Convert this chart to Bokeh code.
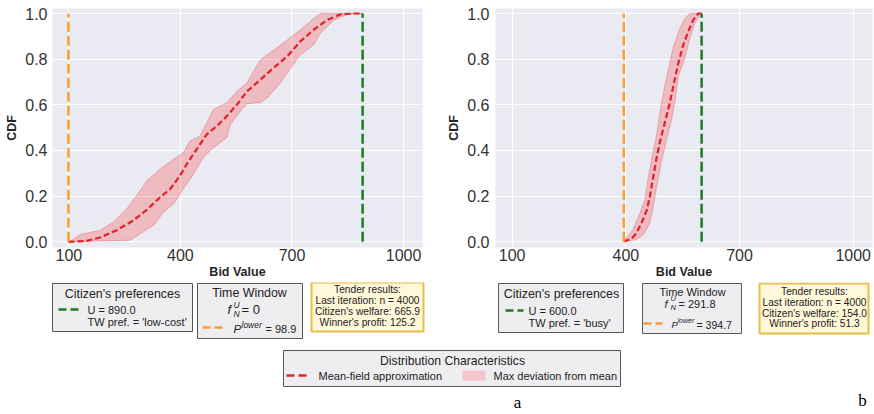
from bokeh.plotting import figure
from bokeh.layouts import column, row
from bokeh.models import Range1d, FixedTicker, PrintfTickFormatter
from bokeh.core.properties import value
from bokeh.embed import file_html
from bokeh.resources import INLINE

# ---------------- data ----------------
bid_ticks = [100, 400, 700, 1000]
cdf_ticks = [0.0, 0.2, 0.4, 0.6, 0.8, 1.0]

# panel a
a_mean_x = [99, 148, 184, 229, 274, 310, 346, 373, 399, 417, 444, 471, 498, 525,
            552, 579, 615, 650, 687, 722, 758, 794, 830, 866, 889]
a_mean_y = [0.0, 0.004, 0.019, 0.051, 0.094, 0.141, 0.196, 0.232, 0.29, 0.34, 0.406,
            0.471, 0.507, 0.551, 0.601, 0.659, 0.71, 0.761, 0.812, 0.877, 0.928,
            0.971, 0.996, 1.0, 1.0]
a_upper_x = [103, 130, 184, 220, 256, 292, 310, 346, 382, 408, 426, 453, 489, 525,
             552, 579, 615, 651, 687, 722, 758, 776, 889]
a_upper_y = [0.0, 0.032, 0.05, 0.087, 0.145, 0.225, 0.268, 0.319, 0.362, 0.391,
             0.442, 0.464, 0.58, 0.609, 0.659, 0.696, 0.797, 0.84, 0.884, 0.928,
             0.978, 1.0, 1.0]
a_lower_x = [99, 265, 292, 328, 355, 382, 408, 435, 462, 489, 525, 534, 561, 579,
             615, 633, 669, 687, 722, 758, 776, 812, 848, 889]
a_lower_y = [0.0, 0.007, 0.036, 0.072, 0.13, 0.167, 0.232, 0.297, 0.37, 0.413, 0.457,
             0.514, 0.572, 0.605, 0.61, 0.63, 0.696, 0.739, 0.819, 0.862, 0.913,
             0.971, 0.996, 1.0]
a_U = 890.0
a_tw_pref = "low-cost"
a_fNU = 0
a_p_lower = 98.9
a_n = 4000
a_welfare = 665.9
a_profit = 125.2

# panel b
b_mean_x = [395, 397, 415, 428, 441, 455, 463, 472, 481, 490, 503, 516, 525, 538,
            552, 565, 578, 591, 600]
b_mean_y = [0.0, 0.003, 0.013, 0.038, 0.081, 0.138, 0.195, 0.281, 0.366, 0.437,
            0.523, 0.608, 0.68, 0.779, 0.865, 0.922, 0.972, 1.0, 1.0]
b_upper_x = [395, 397, 419, 437, 450, 459, 472, 481, 490, 499, 512, 525, 543, 556,
             569, 600]
b_upper_y = [0.0, 0.01, 0.053, 0.124, 0.181, 0.281, 0.395, 0.466, 0.566, 0.651,
             0.751, 0.85, 0.936, 0.979, 1.0, 1.0]
b_lower_x = [395, 428, 446, 463, 472, 481, 494, 508, 521, 530, 538, 556, 569, 582,
             596, 600]
b_lower_y = [0.0, 0.01, 0.031, 0.081, 0.152, 0.238, 0.352, 0.452, 0.537, 0.622,
             0.722, 0.808, 0.893, 0.957, 0.993, 1.0]
b_U = 600.0
b_tw_pref = "busy"
b_fNU = 291.8
b_p_lower = 394.7
b_n = 4000
b_welfare = 154.0
b_profit = 51.3

panel_letters = ["a", "b"]

# ---------------- styles ----------------
FONT = "Liberation Sans"
BG = "#EAEAF2"
ORANGE = "#F5A030"
GREEN = "#1F7A28"
RED = "#E3202A"
BOX_FILL = "#EEEEF1"
BOX_LINE = "#555555"
TENDER_FILL = "#FFF8D9"
TENDER_LINE = "#E6BE4A"


def make_panel(mean_x, mean_y, up_x, up_y, lo_x, lo_y, U, p_lower,
               width, height, bl, br, bt, bb, ystand):
    p = figure(width=width, height=height, x_range=Range1d(56, 1051),
               y_range=Range1d(-0.025, 1.022), output_backend="svg",
               toolbar_location=None, min_border_left=bl, min_border_right=br,
               min_border_top=bt, min_border_bottom=bb)
    p.background_fill_color = BG
    p.border_fill_color = "white"
    p.outline_line_color = None
    p.xaxis.ticker = FixedTicker(ticks=bid_ticks)
    p.yaxis.ticker = FixedTicker(ticks=cdf_ticks)
    p.yaxis.formatter = PrintfTickFormatter(format="%.1f")
    for ax in (p.xaxis, p.yaxis):
        ax.axis_line_color = None
        ax.major_tick_line_color = None
        ax.minor_tick_line_color = None
        ax.major_tick_out = 0
        ax.major_tick_in = 0
        ax.major_label_text_font = FONT
        ax.major_label_text_font_size = "16px"
        ax.major_label_text_color = "#333333"
        ax.axis_label_text_font = FONT
        ax.axis_label_text_font_style = "bold"
        ax.axis_label_text_font_size = "12.5px"
        ax.axis_label_text_color = "#262626"
    p.xaxis.axis_label = "Bid Value"
    p.yaxis.axis_label = "CDF"
    p.xaxis.major_label_standoff = 1
    p.xaxis.axis_label_standoff = 1
    p.yaxis.major_label_standoff = ystand
    p.yaxis.axis_label_standoff = 3
    p.grid.grid_line_color = "white"
    p.grid.grid_line_width = 1.2

    p.patch(up_x + lo_x[::-1], up_y + lo_y[::-1], fill_color="red", fill_alpha=0.2,
            line_color="#E0505A", line_alpha=0.5, line_width=0.8)
    p.line(mean_x, mean_y, line_color=RED, line_width=2.2, line_dash="6 3")
    p.segment(x0=[p_lower], y0=[0], x1=[p_lower], y1=[1], line_color=ORANGE,
              line_width=2.5, line_dash="10 4")
    p.segment(x0=[U], y0=[0], x1=[U], y1=[1], line_color=GREEN,
              line_width=2.5, line_dash="10 4")
    return p


pa = make_panel(a_mean_x, a_mean_y, a_upper_x, a_upper_y, a_lower_x, a_lower_y,
                a_U, a_p_lower, 440, 282, 52, 18, 8, 35, 5)
pb = make_panel(b_mean_x, b_mean_y, b_upper_x, b_upper_y, b_lower_x, b_lower_y,
                b_U, b_p_lower, 434, 282, 55, 2, 3, 35, 6)

# ---------------- legend area (screen-pixel canvas) ----------------
q = figure(width=874, height=132, x_range=Range1d(0, 874), y_range=Range1d(414, 282),
           output_backend="svg", toolbar_location=None, min_border=0,
           x_axis_location=None, y_axis_location=None)
q.outline_line_color = None
q.grid.visible = False
q.background_fill_color = "white"
q.border_fill_color = "white"


def txt(x, y, s, size, align="left", style="normal", color="#222222", font=FONT):
    q.text(x=[x], y=[y], text=[s], text_font=value(font), text_font_size=size,
           text_align=align, text_baseline="middle", text_color=color,
           text_font_style=style)


def box(l, r, t, b, fill=BOX_FILL, line=BOX_LINE, lw=1.0):
    q.quad(left=[l], right=[r], top=[t], bottom=[b], fill_color=fill,
           line_color=line, line_width=lw)


def sample(x0, x1, y, color):
    q.segment(x0=[x0], y0=[y], x1=[x1], y1=[y], line_color=color, line_width=2.5,
              line_dash="8 4")


def panel_legends(U, pref, fNU, p_lower, n, welfare, profit, cfg):
    # Citizen's preferences
    l, r, t, b, tcx, ty, sx0, sx1, sy, lx, ly2 = cfg["cit"]
    box(l, r, t, b)
    txt(tcx, ty, "Citizen's preferences", "12.4px", align="center")
    sample(sx0, sx1, sy, GREEN)
    txt(lx, sy, f"U = {U:.1f}", "11px")
    txt(lx, ly2, f"TW pref. = '{pref}'", "11px")
    # Time window
    l, r, t, b, tcx, ty, tsz = cfg["tw"]
    box(l, r, t, b)
    txt(tcx, ty, "Time Window", tsz, align="center")
    fx, fy, fsz, fsub, fsubsz, feq = cfg["f"]
    txt(fx, fy, "f", fsz, style="italic")
    txt(fx + fsub, fy - 5, "U", fsubsz, style="italic")
    txt(fx + fsub, fy + 4, "N", fsubsz, style="italic")
    txt(fx + feq, fy, f"= {fNU:g}", fsz)
    px0, px1, py, plx, psz, lsz, loff, eoff, esz = cfg["p"]
    sample(px0, px1, py, ORANGE)
    txt(plx, py + 1, "P", psz, style="italic")
    txt(plx + loff, py - 3, "lower", lsz, style="italic")
    txt(plx + eoff, py + 1, f"= {p_lower:.1f}", esz)
    # Tender results
    l, r, t, b, cx, ys = cfg["tender"]
    box(l, r, t, b, fill=TENDER_FILL, line=TENDER_LINE, lw=2)
    lines = ["Tender results:", f"Last iteration: n = {n}",
             f"Citizen's welfare: {welfare:.1f}", f"Winner's profit: {profit:.1f}"]
    for yy, s in zip(ys, lines):
        txt(cx, yy, s, "10.2px", align="center")


cfg_a = {
    "cit": (52, 192, 283, 331, 122, 293, 58, 78, 309, 87, 321),
    "tw": (197, 302, 283, 338, 249, 292, "12.4px"),
    "f": (227, 309, "13px", 6, "8.5px", 14),
    "p": (202, 222, 327, 233, "11.5px", "8.5px", 8, 32, "11px"),
    "tender": (311, 423, 282, 331, 367, [289, 300, 311, 322]),
}
cfg_b = {
    "cit": (498, 623, 283, 332, 561, 293, 505, 523, 310, 528, 322),
    "tw": (642, 741, 283, 333, 692, 291, "11px"),
    "f": (664, 303, "11px", 6, "7.5px", 14),
    "p": (643, 662, 323, 671, "9.5px", "7px", 6, 25, "10.5px"),
    "tender": (759, 868, 283, 333, 814, [291, 302, 313, 323]),
}

panel_legends(a_U, a_tw_pref, a_fNU, a_p_lower, a_n, a_welfare, a_profit, cfg_a)
panel_legends(b_U, b_tw_pref, b_fNU, b_p_lower, b_n, b_welfare, b_profit, cfg_b)

# Distribution characteristics legend
box(283, 620, 350, 386)
txt(452, 360, "Distribution Characteristics", "12.2px", align="center")
sample(286, 308, 375, RED)
txt(318, 375, "Mean-field approximation", "11px")
q.quad(left=[462], right=[485], top=[370], bottom=[380], fill_color="#F4C3CB",
       line_color=None)
txt(493, 375, "Max deviation from mean", "11px")

# panel letters
txt(517, 402, panel_letters[0], "17px", align="center", color="black",
    font="Liberation Serif")
txt(862, 400, panel_letters[1], "17px", align="center", color="black",
    font="Liberation Serif")

layout = column(row(pa, pb), q)
open("out.html", "w").write(file_html(layout, INLINE))
